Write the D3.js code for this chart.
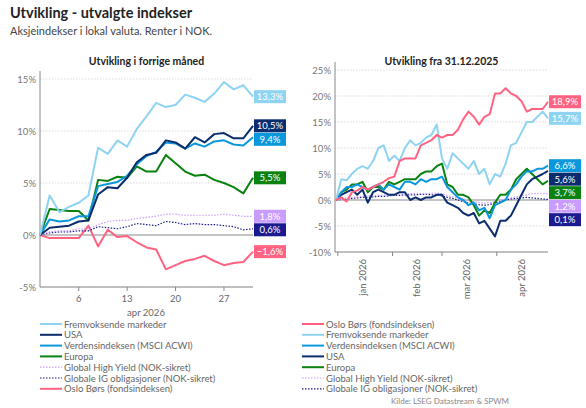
<!DOCTYPE html>
<html><head><meta charset="utf-8">
<script src="https://cdn.jsdelivr.net/npm/d3@7"></script>
<style>body{margin:0;background:#fff}svg{font-family:Lato,"Open Sans",sans-serif}</style>
</head><body><svg id="c" width="586" height="408"></svg>
<script>
// venstre: forrige måned (handelsdager)
const monthTicks = [4, 9, 14, 19];
const monthTickLabels = ["6", "13", "20", "27"];
const mEM = [0,3.8,2.2,2.7,3.1,3.8,8.4,7.8,9.1,8.5,10.2,11.4,12.7,12.3,12.5,13.5,13.2,12.8,13.6,14.7,14.0,14.4,13.3];
const mUSA = [0,0.7,0.8,0.9,1.3,1.4,3.9,4.6,4.5,5.5,7.0,7.7,7.9,9.1,8.9,8.3,9.4,8.9,9.7,9.8,9.3,9.3,10.5];
const mACWI = [0,1.5,1.3,1.4,1.8,1.8,4.7,4.9,5.1,5.7,6.8,7.6,8.0,8.9,8.8,8.3,8.8,8.5,9.0,9.1,8.7,8.6,9.4];
const mEUR = [0,2.5,2.4,2.3,2.3,1.4,5.3,5.2,5.6,5.5,6.6,6.1,6.1,7.7,6.9,6.1,5.7,5.8,5.3,5.0,4.6,4.0,5.5];
const mHY = [0,0.3,0.4,0.4,0.6,0.6,1.0,1.3,1.4,1.4,1.6,1.7,1.8,2.0,2.0,1.9,1.9,1.9,1.9,2.0,1.9,1.8,1.8];
const mIG = [0,0.2,0.3,0.3,0.4,0.4,0.8,0.7,0.6,0.8,1.1,1.0,0.9,1.3,1.2,1.0,1.1,1.0,1.0,0.9,0.8,0.5,0.6];
const mOSE = [0,-0.3,-0.3,-0.3,-0.3,0.9,-1.1,0.5,-0.2,-0.1,-0.7,-1.2,-1.4,-3.3,-2.9,-2.5,-2.3,-2.0,-2.5,-2.9,-2.7,-2.6,-1.6];

// høyre: fra 31.12.2025, punkt hver 3. dag
const ytdStart = new Date(2025, 11, 31);
const yOSE = [0,0.5,-0.3,1.5,1.8,2.5,2.0,2.5,3,3.5,4.2,4.5,7.5,8,8,8,10.5,11,11.5,12.5,12,12.5,12.5,13.5,15.5,17,16,14.5,16,16.5,20.5,20.5,21.5,20.5,20,19,17,17.5,17.5,17.5,18.9];
const yEM = [0,4,3.8,5,6,6.5,6,7.5,10,10.5,7.5,8.5,7.5,10,11.5,10.5,11,12,12.5,14.5,8,6,9,8,7,6,7.5,5,6,3,5,4.5,7,10.5,11,13,15,15,16,17,15.7];
const yACWI = [0,1.5,2.5,2.5,3,2.5,2,2.5,3,2,3,2.5,2,3.5,3.5,3,4,3.5,4,4,4.5,2.5,1.5,0.5,0,-1,-0.5,-2,-1.5,-3.5,-1,-0.5,0,2,3,4.5,5.5,5.5,6,6,6.6];
const yUSA = [0,1,1.5,2,1,2,-0.5,1.5,2,1.5,1,1,1.5,1.5,0,0.5,0,0.5,0.5,1,1,-0.5,-1,-1.5,-2.5,-3,-2.5,-4.5,-4,-5.5,-7,-4,-4,-3,-1,1,3,4,4.5,5,5.6];
const yEUR = [0,1.5,2,3,3,3.5,1.5,2.5,2.5,2,3.5,3,3.5,4,4,4,5,5.5,5.5,6.5,7,3,2.5,1,1,0.5,-1,-3,-2,-2.5,-0.5,1,1,2,4,5,6,5,4,3,3.7];
const yHY = [0,0.2,0.4,0.5,0.6,0.7,0.8,0.8,0.9,0.9,1,1,1.1,1.2,1.2,1.3,1.3,1.2,1.3,1.3,1.2,0.8,0.6,0.5,0.2,-0.2,-0.3,-0.5,-0.6,-0.5,-0.3,0,0.2,0.4,0.6,0.8,1,1.2,1.3,1.3,1.2];
const yIG = [0,0.1,0.2,0.3,0.4,0.5,0.5,0.6,0.7,0.7,0.8,0.9,0.9,1,1,1,1.1,1.1,1,1,0.8,0.5,0.3,0,-0.3,-0.6,-0.7,-0.9,-1,-0.9,-0.5,-0.3,0,0.2,0.3,0.4,0.5,0.4,0.3,0.2,0.1];

const C = {em:"#8ed4f2", usa:"#0b2d6e", acwi:"#0a97dc", eur:"#0a820f", hy:"#c99cff", ig:"#1b1b8f", ose:"#ff6381"};
const names = {em:"Fremvoksende markeder", usa:"USA", acwi:"Verdensindeksen (MSCI ACWI)", eur:"Europa",
  hy:"Global High Yield (NOK-sikret)", ig:"Globale IG obligasjoner (NOK-sikret)", ose:"Oslo Børs (fondsindeksen)"};
const dotted = {hy:true, ig:true};
const leftSeries = [["em",mEM],["usa",mUSA],["acwi",mACWI],["eur",mEUR],["hy",mHY],["ig",mIG],["ose",mOSE]];
const rightSeries = [["ose",yOSE],["em",yEM],["acwi",yACWI],["usa",yUSA],["eur",yEUR],["hy",yHY],["ig",yIG]];
const fmt = v => d3.format(".1f")(v).replace(".", ",").replace("-", "-") + "%";

const svg = d3.select("#c");
svg.append("text").attr("x",10).attr("y",18).attr("font-size",14.5).attr("font-weight",700).attr("fill","#222").text("Utvikling - utvalgte indekser");
svg.append("text").attr("x",10).attr("y",35).attr("font-size",11).attr("fill","#444").text("Aksjeindekser i lokal valuta. Renter i NOK.");

function panel(o) {
  const g = svg.append("g");
  g.append("text").attr("x",(o.x0+o.x1)/2).attr("y",65).attr("text-anchor","middle").attr("font-size",10.5).attr("font-weight",700).attr("fill","#222").text(o.title);
  const y = d3.scaleLinear().domain(o.yd).range([o.yb, o.yt]);
  o.yticks.forEach(t => {
    g.append("line").attr("x1",o.x0).attr("x2",o.x1).attr("y1",y(t)).attr("y2",y(t))
      .attr("stroke", t===0 ? "#888" : "#ccc").attr("stroke-width", t===0?1:0.7).attr("stroke-dasharray", t===0?null:"1.5,1.5");
    g.append("text").attr("x",o.x0-4).attr("y",y(t)+3.5).attr("text-anchor","end").attr("font-size",9.5).attr("fill","#777").text(t+"%");
  });
  g.append("line").attr("x1",o.x0).attr("x2",o.x0).attr("y1",o.yt-8).attr("y2",o.yb).attr("stroke","#888");
  g.append("line").attr("x1",o.x0).attr("x2",o.x1).attr("y1",o.yb).attr("y2",o.yb).attr("stroke","#888");
  const order = o.series.slice().reverse();
  order.forEach(([k, vals]) => {
    const line = d3.line().x((d,i)=>o.xf(i)).y(d=>y(d));
    g.append("path").datum(vals).attr("d",line).attr("fill","none").attr("stroke",C[k])
      .attr("stroke-width", dotted[k]?1.2:2).attr("stroke-dasharray", dotted[k]?"1.5,1.5":null).attr("stroke-linejoin","round");
  });
  // endelabels, unngå overlapp
  let labs = o.series.map(([k,v]) => ({k, v:v[v.length-1], py:y(v[v.length-1])})).sort((a,b)=>a.py-b.py);
  for (let i=1;i<labs.length;i++) if (labs[i].py - labs[i-1].py < 13.5) labs[i].py = labs[i-1].py + 13.5;
  labs.forEach(l => {
    g.append("rect").attr("x",o.x1+1).attr("y",l.py-6.5).attr("width",32).attr("height",13).attr("fill",C[l.k]);
    g.append("text").attr("x",o.x1+17).attr("y",l.py+3.5).attr("text-anchor","middle").attr("font-size",9.5).attr("fill","#fff").text(fmt(l.v));
  });
  // legende
  o.series.forEach(([k], i) => {
    const ly = 324 + i*10.8;
    g.append("line").attr("x1",o.lx).attr("x2",o.lx+22).attr("y1",ly).attr("y2",ly).attr("stroke",C[k])
      .attr("stroke-width", dotted[k]?1.2:2).attr("stroke-dasharray", dotted[k]?"1.5,1.5":null);
    g.append("text").attr("x",o.lx+24).attr("y",ly+3.5).attr("font-size",9.5).attr("fill","#666").text(names[k]);
  });
  return {g, y};
}

// venstre panel
const xL = d3.scaleLinear().domain([0, mEM.length-1]).range([40, 253]);
const L = panel({title:"Utvikling i forrige måned", x0:40, x1:253, yt:79, yb:287, yd:[-5,15], yticks:[-5,0,5,10,15],
  xf:xL, series:leftSeries, lx:40});
monthTicks.forEach((t,i) => {
  L.g.append("line").attr("x1",xL(t)).attr("x2",xL(t)).attr("y1",287).attr("y2",291).attr("stroke","#888");
  L.g.append("text").attr("x",xL(t)).attr("y",302).attr("text-anchor","middle").attr("font-size",9.5).attr("fill","#666").text(monthTickLabels[i]);
});
L.g.append("text").attr("x",146).attr("y",316).attr("text-anchor","middle").attr("font-size",9.5).attr("fill","#666").text("apr 2026");

// høyre panel
const xT = d3.scaleTime().domain([ytdStart, new Date(2026,3,30)]).range([336, 548]);
const dateAt = i => d3.timeDay.offset(ytdStart, i*3);
const R = panel({title:"Utvikling fra 31.12.2025", x0:335, x1:548, yt:70, yb:252, yd:[-10,25], yticks:[-10,-5,0,5,10,15,20,25],
  xf:i=>xT(dateAt(i)), series:rightSeries, lx:302});
const mths = d3.timeMonth.range(new Date(2026,0,1), new Date(2026,4,1));
mths.forEach(m => {
  R.g.append("line").attr("x1",xT(m)).attr("x2",xT(m)).attr("y1",252).attr("y2",256).attr("stroke","#888");
  const mid = xT(d3.timeDay.offset(m, 14));
  R.g.append("text").attr("transform",`translate(${mid+3},259) rotate(-90)`).attr("text-anchor","end").attr("font-size",9.5).attr("fill","#666")
    .text(["jan","feb","mar","apr"][m.getMonth()] + " 2026");
});

svg.append("text").attr("x",509).attr("y",404).attr("text-anchor","end").attr("font-size",8).attr("fill","#888").text("Kilde: LSEG Datastream & SPWM");
</script></body></html>
